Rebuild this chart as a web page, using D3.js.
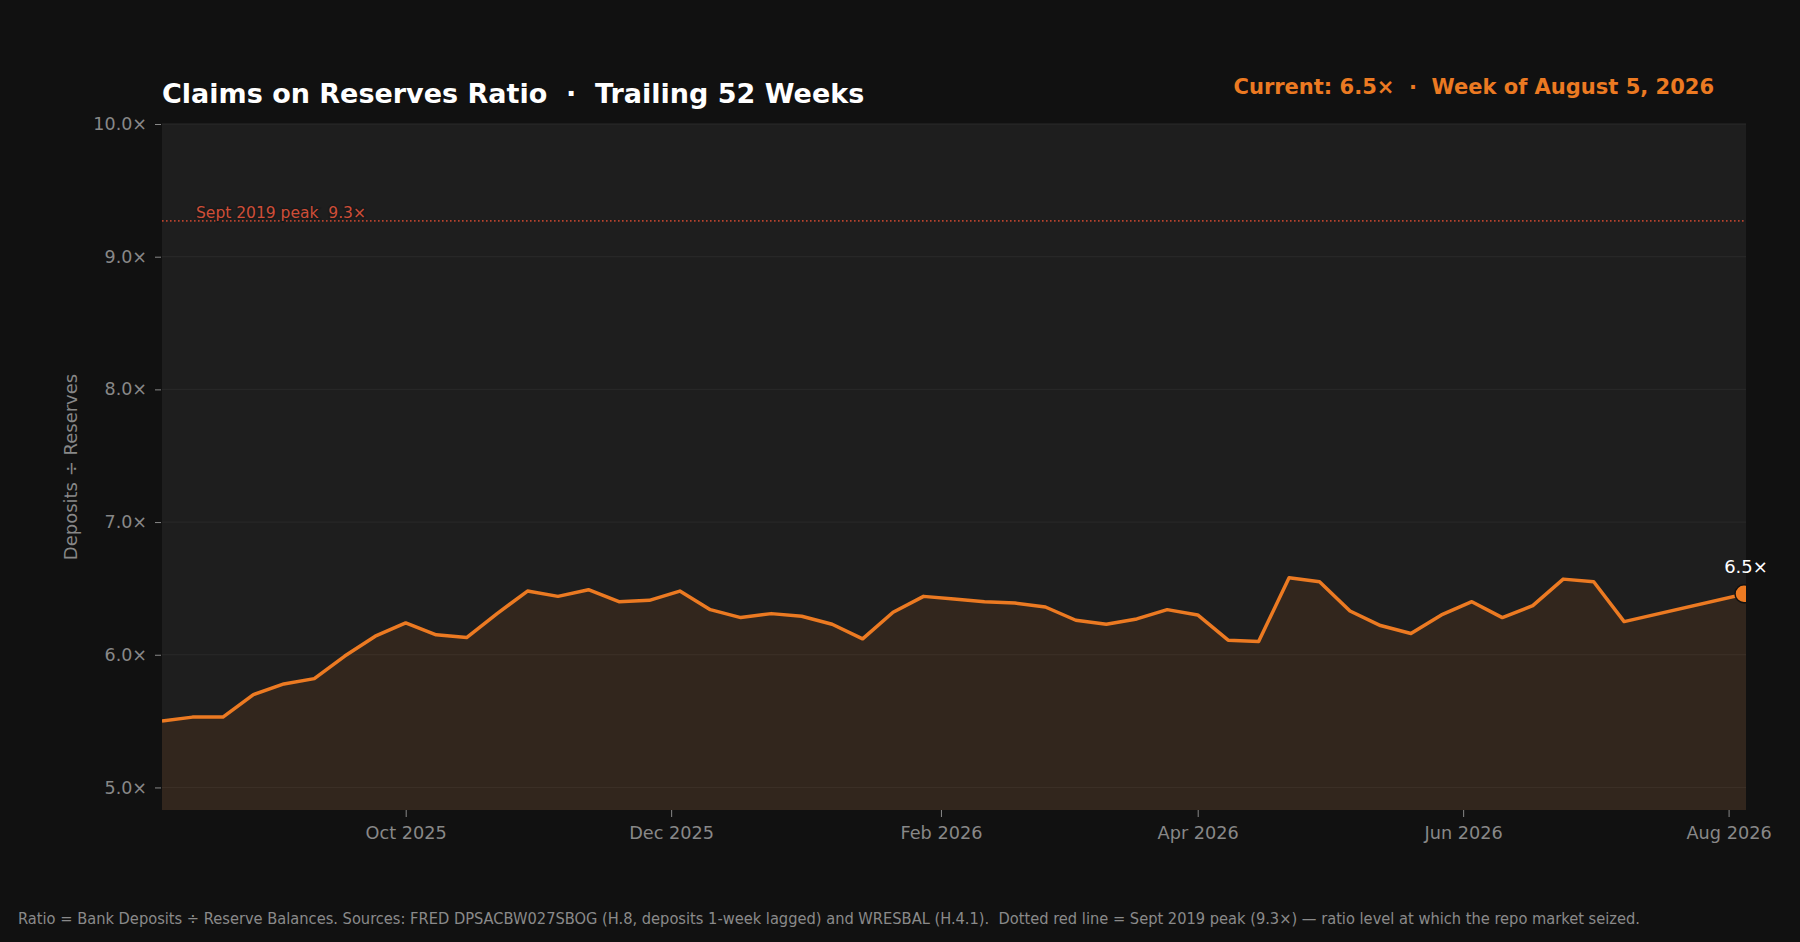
<!DOCTYPE html>
<html>
<head>
<meta charset="utf-8">
<script src="https://cdn.jsdelivr.net/npm/d3@7"></script>
<style>
  html, body { margin: 0; padding: 0; background: #111111; }
  svg { display: block; }
  text { font-family: "DejaVu Sans", sans-serif; white-space: pre; }
</style>
</head>
<body>
<svg id="chart" width="1800" height="942"></svg>
<script>
// ---- data ----
const weekDates = [
  "2025-08-06","2025-08-13","2025-08-20","2025-08-27","2025-09-03","2025-09-10","2025-09-17","2025-09-24",
  "2025-10-01","2025-10-08","2025-10-15","2025-10-22","2025-10-29","2025-11-05","2025-11-12","2025-11-19",
  "2025-11-26","2025-12-03","2025-12-10","2025-12-17","2025-12-24","2025-12-31","2026-01-07","2026-01-14",
  "2026-01-21","2026-01-28","2026-02-04","2026-02-11","2026-02-18","2026-02-25","2026-03-04","2026-03-11",
  "2026-03-18","2026-03-25","2026-04-01","2026-04-08","2026-04-15","2026-04-22","2026-04-29","2026-05-06",
  "2026-05-13","2026-05-20","2026-05-27","2026-06-03","2026-06-10","2026-06-17","2026-06-24","2026-07-01",
  "2026-07-08","2026-08-05"
];
const ratioValues = [
  5.50, 5.53, 5.53, 5.70, 5.78, 5.82, 5.99, 6.14,
  6.24, 6.15, 6.13, 6.31, 6.48, 6.44, 6.49, 6.40,
  6.41, 6.48, 6.34, 6.28, 6.31, 6.29, 6.23, 6.12,
  6.32, 6.44, 6.42, 6.40, 6.39, 6.36, 6.26, 6.23,
  6.27, 6.34, 6.30, 6.11, 6.10, 6.58, 6.55, 6.33,
  6.22, 6.16, 6.30, 6.40, 6.28, 6.37, 6.57, 6.55,
  6.25, 6.46
];
const yTickValues = [5, 6, 7, 8, 9, 10];
const xTickDates = ["2025-10-01","2025-12-01","2026-02-01","2026-04-01","2026-06-01","2026-08-01"];
const yDomain = [4.83, 10.0];
const peakValue = 9.27;
const peakLabel = "Sept 2019 peak  9.3×";
const titleText = "Claims on Reserves Ratio  ·  Trailing 52 Weeks";
const currentText = "Current: 6.5×  ·  Week of August 5, 2026";
const currentLabel = "6.5×";
const yAxisTitle = "Deposits ÷ Reserves";
const footerText = "Ratio = Bank Deposits ÷ Reserve Balances. Sources: FRED DPSACBW027SBOG (H.8, deposits 1-week lagged) and WRESBAL (H.4.1).  Dotted red line = Sept 2019 peak (9.3×) — ratio level at which the repo market seized.";

// ---- layout ----
const W = 1800, H = 942;
const m = { left: 162, right: 54, top: 124, bottom: 132 };
const iw = W - m.left - m.right, ih = H - m.top - m.bottom;
const ORANGE = "#ec7a22";

const parse = d3.utcParse("%Y-%m-%d");
const data = weekDates.map((d, i) => ({ date: parse(d), value: ratioValues[i] }));

const svg = d3.select("#chart");
svg.append("rect").attr("width", W).attr("height", H).attr("fill", "#111111");

const x = d3.scaleUtc().domain(d3.extent(data, d => d.date)).range([0, iw]);
const y = d3.scaleLinear().domain(yDomain).range([ih, 0]);

const g = svg.append("g").attr("transform", `translate(${m.left},${m.top})`);

svg.append("defs").append("clipPath").attr("id", "plotclip")
  .append("rect").attr("width", iw).attr("height", ih);

g.append("rect").attr("width", iw).attr("height", ih).attr("fill", "#1e1e1e");

// gridlines
g.append("g").selectAll("line").data(yTickValues).join("line")
  .attr("x1", 0).attr("x2", iw)
  .attr("y1", d => y(d)).attr("y2", d => y(d))
  .attr("stroke", "#2a2a2a").attr("stroke-width", 1);

const plot = g.append("g").attr("clip-path", "url(#plotclip)");

// area
plot.append("path").datum(data)
  .attr("d", d3.area().x(d => x(d.date)).y0(ih).y1(d => y(d.value)))
  .attr("fill", ORANGE).attr("fill-opacity", 0.1);

// peak line
plot.append("line")
  .attr("x1", 0).attr("x2", iw)
  .attr("y1", y(peakValue)).attr("y2", y(peakValue))
  .attr("stroke", "#c8472f").attr("stroke-width", 1.6)
  .attr("stroke-dasharray", "1.6,2.4").attr("opacity", 0.9);

g.append("text").attr("x", 34).attr("y", y(peakValue) - 3)
  .attr("font-size", 15.5).attr("fill", "#cf4e38")
  .attr("stroke", "#1a1a1a").attr("stroke-width", 3).attr("paint-order", "stroke")
  .text(peakLabel);

// line
plot.append("path").datum(data)
  .attr("d", d3.line().x(d => x(d.date)).y(d => y(d.value)))
  .attr("fill", "none").attr("stroke", ORANGE).attr("stroke-width", 3.5)
  .attr("stroke-linejoin", "round");

// last dot
const last = data[data.length - 1];
plot.append("circle").attr("cx", x(last.date) - 2).attr("cy", y(last.value)).attr("r", 9)
  .attr("fill", ORANGE).attr("stroke", "#111111").attr("stroke-width", 1.5);

g.append("text").attr("x", x(last.date)).attr("y", y(last.value) - 21)
  .attr("text-anchor", "middle").attr("font-size", 18).attr("fill", "#ffffff")
  .text(currentLabel);

// y axis
const yAxis = g.append("g")
  .call(d3.axisLeft(y).tickValues(yTickValues).tickSize(6).tickPadding(9)
    .tickFormat(d => d3.format(".1f")(d) + "×"));
yAxis.select(".domain").remove();
yAxis.selectAll(".tick line").attr("stroke", "#888888").attr("transform", "translate(-1,0)");
yAxis.selectAll(".tick text").attr("fill", "#888888").attr("font-size", 17.5)
  .attr("font-family", "DejaVu Sans");

// x axis
const xAxis = g.append("g").attr("transform", `translate(0,${ih})`)
  .call(d3.axisBottom(x).tickValues(xTickDates.map(parse)).tickSize(7).tickPadding(9)
    .tickFormat(d3.utcFormat("%b %Y")));
xAxis.select(".domain").remove();
xAxis.selectAll(".tick line").attr("stroke", "#888888");
xAxis.selectAll(".tick text").attr("fill", "#888888").attr("font-size", 17.7)
  .attr("font-family", "DejaVu Sans");

// y title
svg.append("text")
  .attr("transform", `translate(77,${m.top + ih / 2}) rotate(-90)`)
  .attr("text-anchor", "middle").attr("font-size", 18).attr("fill", "#888888")
  .text(yAxisTitle);

// titles
svg.append("text").attr("x", m.left).attr("y", 103)
  .attr("font-size", 27).attr("font-weight", "bold").attr("fill", "#ffffff")
  .text(titleText);

svg.append("text").attr("x", 1714).attr("y", 94).attr("text-anchor", "end")
  .attr("font-size", 21).attr("font-weight", "bold").attr("fill", ORANGE)
  .text(currentText);

// footer
svg.append("text").attr("x", 18).attr("y", 924)
  .attr("font-family", "'DejaVu Sans Condensed', 'DejaVu Sans', sans-serif")
  .attr("font-stretch", "condensed")
  .attr("font-size", 16.3).attr("fill", "#8a8a8a")
  .text(footerText);
</script>
</body>
</html>
